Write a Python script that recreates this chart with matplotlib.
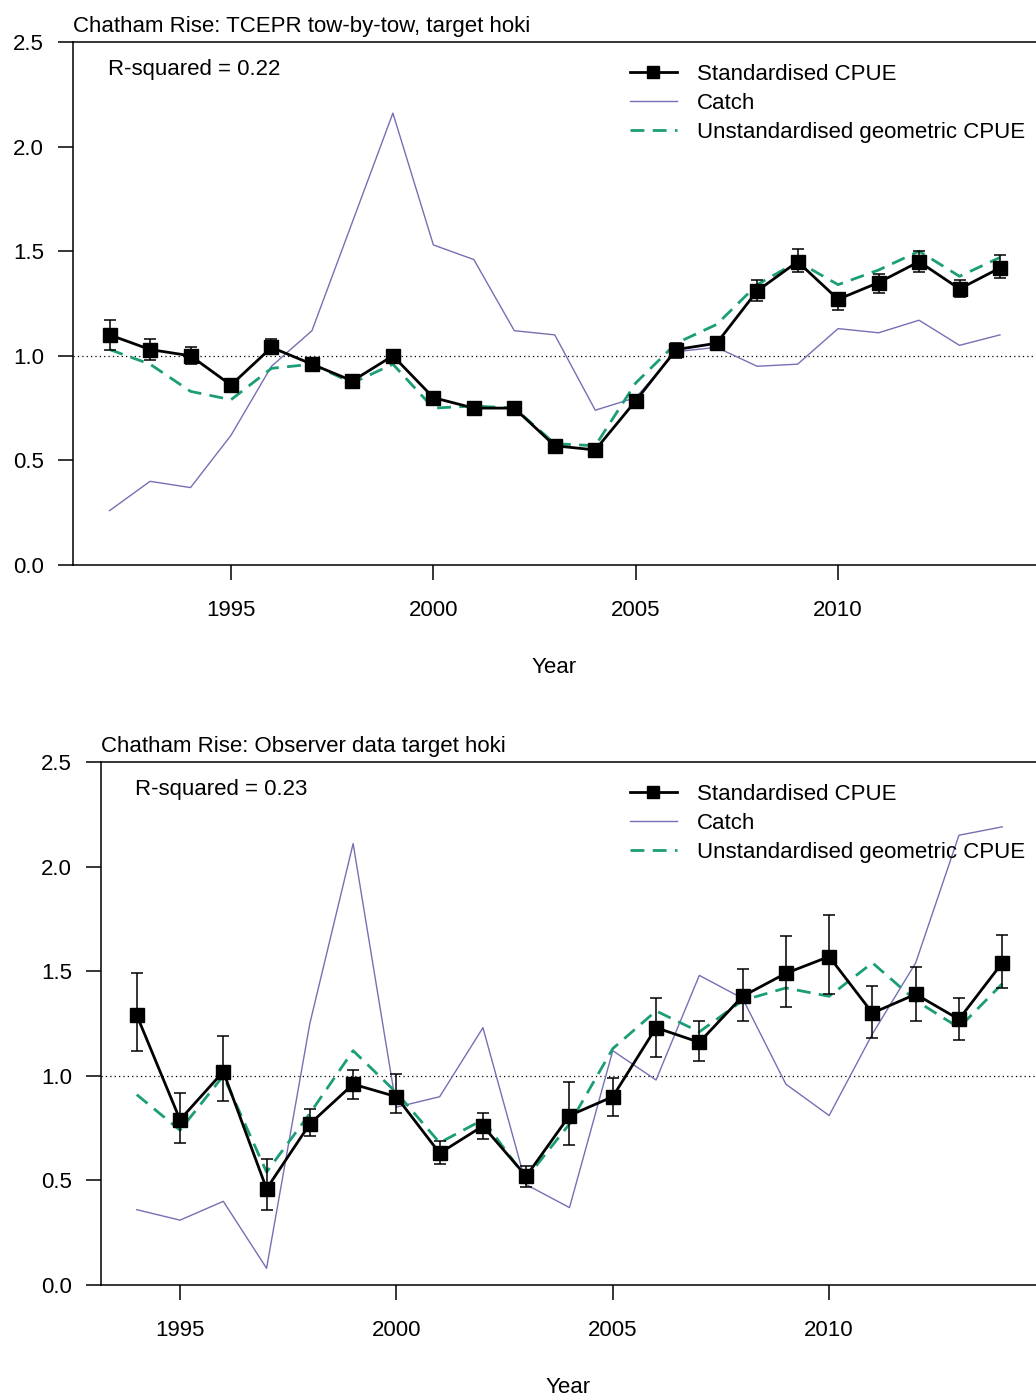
import numpy as np
import matplotlib
matplotlib.use("Agg")
import matplotlib.pyplot as plt
from matplotlib.lines import Line2D

plt.rcParams['font.family'] = ['Liberation Sans', 'DejaVu Sans']

# panel 1: TCEPR tow-by-tow
years1 = np.arange(1992, 2015)
std1 = [1.10, 1.03, 1.00, 0.86, 1.04, 0.96, 0.88, 1.00, 0.80, 0.75, 0.75, 0.57,
        0.55, 0.785, 1.03, 1.06, 1.31, 1.45, 1.27, 1.35, 1.45, 1.32, 1.42]
lo1 = [1.03, 0.98, 0.96, 0.84, 1.01, 0.93, 0.86, 0.98, 0.79, 0.74, 0.74, 0.56,
       0.54, 0.76, 0.99, 1.03, 1.26, 1.40, 1.22, 1.30, 1.40, 1.28, 1.37]
hi1 = [1.17, 1.08, 1.04, 0.89, 1.08, 0.98, 0.90, 1.02, 0.82, 0.76, 0.76, 0.59,
       0.56, 0.80, 1.06, 1.09, 1.36, 1.51, 1.30, 1.39, 1.50, 1.36, 1.48]
catch1 = [0.26, 0.40, 0.37, 0.62, 0.95, 1.12, 1.64, 2.16, 1.53, 1.46, 1.12, 1.10,
          0.74, 0.80, 1.02, 1.04, 0.95, 0.96, 1.13, 1.11, 1.17, 1.05, 1.10]
unstd1 = [1.03, 0.96, 0.83, 0.79, 0.94, 0.96, 0.87, 0.96, 0.75, 0.76, 0.75, 0.58,
          0.57, 0.87, 1.06, 1.15, 1.34, 1.45, 1.34, 1.41, 1.50, 1.38, 1.47]

# panel 2: observer data
years2 = np.arange(1994, 2015)
std2 = [1.29, 0.79, 1.02, 0.46, 0.77, 0.96, 0.90, 0.63, 0.76, 0.52, 0.81, 0.90,
        1.23, 1.16, 1.38, 1.49, 1.57, 1.30, 1.39, 1.27, 1.54]
lo2 = [1.12, 0.68, 0.88, 0.36, 0.71, 0.89, 0.82, 0.58, 0.70, 0.47, 0.67, 0.81,
       1.09, 1.07, 1.26, 1.33, 1.39, 1.18, 1.26, 1.17, 1.42]
hi2 = [1.49, 0.92, 1.19, 0.60, 0.84, 1.03, 1.01, 0.69, 0.82, 0.57, 0.97, 0.99,
       1.37, 1.26, 1.51, 1.67, 1.77, 1.43, 1.52, 1.37, 1.675]
catch2 = [0.36, 0.31, 0.40, 0.08, 1.25, 2.11, 0.85, 0.90, 1.23, 0.48, 0.37, 1.12,
          0.98, 1.48, 1.37, 0.96, 0.81, 1.20, 1.54, 2.15, 2.19]
unstd2 = [0.91, 0.74, 1.00, 0.54, 0.82, 1.12, 0.92, 0.68, 0.79, 0.51, 0.77, 1.13,
          1.31, 1.21, 1.36, 1.42, 1.38, 1.54, 1.36, 1.23, 1.44]

yticks = [0.0, 0.5, 1.0, 1.5, 2.0, 2.5]
ytick_labels = ["0.0", "0.5", "1.0", "1.5", "2.0", "2.5"]
xticks = [1995, 2000, 2005, 2010]
labels = ["Standardised CPUE", "Catch", "Unstandardised geometric CPUE"]

catch_col = "#7570B3"
unstd_col = "#1B9E77"
fs = 16

W, H = 1036, 1398
fig = plt.figure(figsize=(W / 100, H / 100), dpi=100)


def panel(rect, xlim, years, std, lo, hi, catch, unstd, title, rsq, leg_x):
    ax = fig.add_axes(rect)
    std = np.array(std)
    yerr = [std - np.array(lo), np.array(hi) - std]
    ax.plot(years, catch, color=catch_col, lw=1.0, zorder=2)
    ax.axhline(1.0, color='black', lw=0.9, ls=(0, (1, 2.5)), zorder=1)
    ax.plot(years, unstd, color=unstd_col, lw=2.0, dashes=(5, 3), zorder=3)
    ax.errorbar(years, std, yerr=yerr, fmt='-s', color='black', lw=2.0, ms=10,
                elinewidth=1.1, capsize=4, capthick=1.1, zorder=4)
    ax.set_xlim(*xlim)
    ax.set_ylim(0, 2.5)
    ax.set_yticks(yticks)
    ax.set_yticklabels(ytick_labels)
    ax.set_xticks(xticks)
    ax.spines['right'].set_visible(False)
    for s in ['left', 'top', 'bottom']:
        ax.spines[s].set_linewidth(1.1)
    ax.tick_params(axis='both', direction='out', length=11, width=1.1,
                   labelsize=fs)
    ax.tick_params(axis='y', pad=10)
    ax.tick_params(axis='x', pad=14)
    ax.set_xlabel("Year", fontsize=fs, labelpad=26)
    ax.set_title(title, loc='left', fontsize=fs, pad=7.5)
    ax.text(0.036, 0.948, rsq, transform=ax.transAxes, fontsize=fs,
            ha='left', va='center')
    handles = [
        Line2D([], [], color='black', lw=2.0, marker='s', ms=8),
        Line2D([], [], color=catch_col, lw=1.0),
        Line2D([], [], color=unstd_col, lw=2.0, dashes=(5, 3)),
    ]
    ax.legend(handles, labels, loc='upper left', bbox_to_anchor=(leg_x, 0.958),
              frameon=False, fontsize=fs, handlelength=2.1, handletextpad=0.9,
              labelspacing=0.36, borderpad=0, borderaxespad=0)
    return ax


panel([73 / W, 1 - 565 / H, 1 - 73 / W, 523 / H], (1991.096, 2014.89),
      years1, std1, lo1, hi1, catch1, unstd1,
      "Chatham Rise: TCEPR tow-by-tow, target hoki", "R-squared = 0.22",
      (630 - 73) / 963)
panel([101 / W, 1 - 1285 / H, 1 - 101 / W, 523 / H], (1993.174, 2014.78),
      years2, std2, lo2, hi2, catch2, unstd2,
      "Chatham Rise: Observer data target hoki", "R-squared = 0.23",
      (630 - 101) / 935)

fig.savefig("out.png", dpi=100)
